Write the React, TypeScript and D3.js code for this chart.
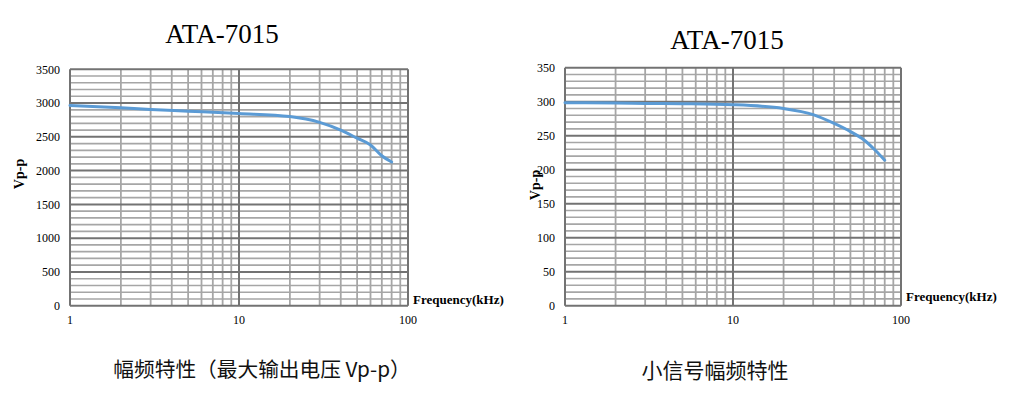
import React from "react";
import * as d3 from "d3";

const freqs = [1, 2, 3, 5, 10, 20, 30, 40, 50, 60, 70, 80];
const maxOutputVpp = [2965, 2930, 2905, 2880, 2845, 2800, 2715, 2600, 2480, 2380, 2220, 2128];
const smallSignalVpp = [298.5, 298, 297.5, 297, 295.5, 290, 281, 268, 256, 244, 229, 214];

const xTickLabels = [1, 10, 100];
const leftYTicks = [0, 500, 1000, 1500, 2000, 2500, 3000, 3500];
const rightYTicks = [0, 50, 100, 150, 200, 250, 300, 350];

const chartTitle = "ATA-7015";
const leftCaption = "幅频特性（最大输出电压 Vp-p）";
const rightCaption = "小信号幅频特性";
const yLabel = "Vp-p";
const xLabel = "Frequency(kHz)";

type PanelProps = {
  x0: number; x1: number; y0: number; y1: number;
  yMax: number; yMinorStep: number; yTicks: number[]; values: number[];
  titleX: number; titleY: number; yLabelX: number; yLabelY: number;
  xLabelY: number; caption: string; captionX: number; captionY: number; captionSize: number;
};

function Panel(p: PanelProps) {
  const x = d3.scaleLog().domain([1, 100]).range([p.x0, p.x1]);
  const y = d3.scaleLinear().domain([0, p.yMax]).range([p.y1, p.y0]);
  const minorX: number[] = [];
  for (const dec of [1, 10]) for (let k = 2; k <= 9; k++) minorX.push(dec * k);
  const minorY = d3.range(0, p.yMax + 1e-9, p.yMinorStep).filter(v => !p.yTicks.some(t => Math.abs(t - v) < 1e-9));
  const line = d3.line<number>()
    .x((_, i) => x(freqs[i]))
    .y(d => y(d))
    .curve(d3.curveMonotoneX);
  const minor = "#a6a6a6";
  const major = "#737373";
  const serif = "'Liberation Serif', 'Times New Roman', serif";
  return (
    <g>
      <text x={p.titleX} y={p.titleY} textAnchor="middle" fontFamily={serif} fontSize={27} fill="#000">{chartTitle}</text>
      {minorY.map(v => (
        <line key={"my" + v} x1={p.x0} x2={p.x1} y1={y(v)} y2={y(v)} stroke={minor} strokeWidth={1.6} />
      ))}
      {minorX.map(v => (
        <line key={"mx" + v} x1={x(v)} x2={x(v)} y1={p.y0} y2={p.y1} stroke={minor} strokeWidth={1.8} />
      ))}
      {p.yTicks.map(v => (
        <line key={"My" + v} x1={p.x0} x2={p.x1} y1={y(v)} y2={y(v)} stroke={major} strokeWidth={2} />
      ))}
      {xTickLabels.map(v => (
        <line key={"Mx" + v} x1={x(v)} x2={x(v)} y1={p.y0} y2={p.y1} stroke={major} strokeWidth={2} />
      ))}
      <path d={line(p.values) || ""} fill="none" stroke="#5b9bd5" strokeWidth={3} strokeLinecap="round" />
      {p.yTicks.map(v => (
        <text key={"yt" + v} x={p.x0 - 10} y={y(v)} dy="0.35em" textAnchor="end" fontFamily={serif} fontSize={12} fill="#000">{v}</text>
      ))}
      {xTickLabels.map(v => (
        <text key={"xt" + v} x={x(v)} y={p.y1 + 18} textAnchor="middle" fontFamily={serif} fontSize={12} fill="#000">{v}</text>
      ))}
      <text transform={`translate(${p.yLabelX},${p.yLabelY}) rotate(-90)`} textAnchor="middle" dy="0.35em" fontFamily={serif} fontWeight="bold" fontSize={14} fill="#000">{yLabel}</text>
      <text x={p.x1 + 5} y={p.xLabelY} fontFamily={serif} fontWeight="bold" fontSize={13} fill="#000">{xLabel}</text>
      <text x={p.captionX} y={p.captionY} textAnchor="middle" fontFamily="'Noto Sans CJK SC', sans-serif" fontSize={p.captionSize} fill="#111">{p.caption}</text>
    </g>
  );
}

export default function App() {
  return (
    <svg width={1034} height={396} style={{ position: "absolute", left: 0, top: 0, background: "#fff" }}>
      <rect width={1034} height={396} fill="#fff" />
      <Panel x0={70} x1={408} y0={69.3} y1={305.7} yMax={3500} yMinorStep={100} yTicks={leftYTicks}
        values={maxOutputVpp} titleX={222} titleY={43} yLabelX={19} yLabelY={174} xLabelY={304}
        caption={leftCaption} captionX={262} captionY={377} captionSize={20.7} />
      <Panel x0={565} x1={901} y0={67.7} y1={305.7} yMax={350} yMinorStep={10} yTicks={rightYTicks}
        values={smallSignalVpp} titleX={727} titleY={49} yLabelX={535} yLabelY={185} xLabelY={301}
        caption={rightCaption} captionX={715} captionY={378} captionSize={21} />
    </svg>
  );
}
